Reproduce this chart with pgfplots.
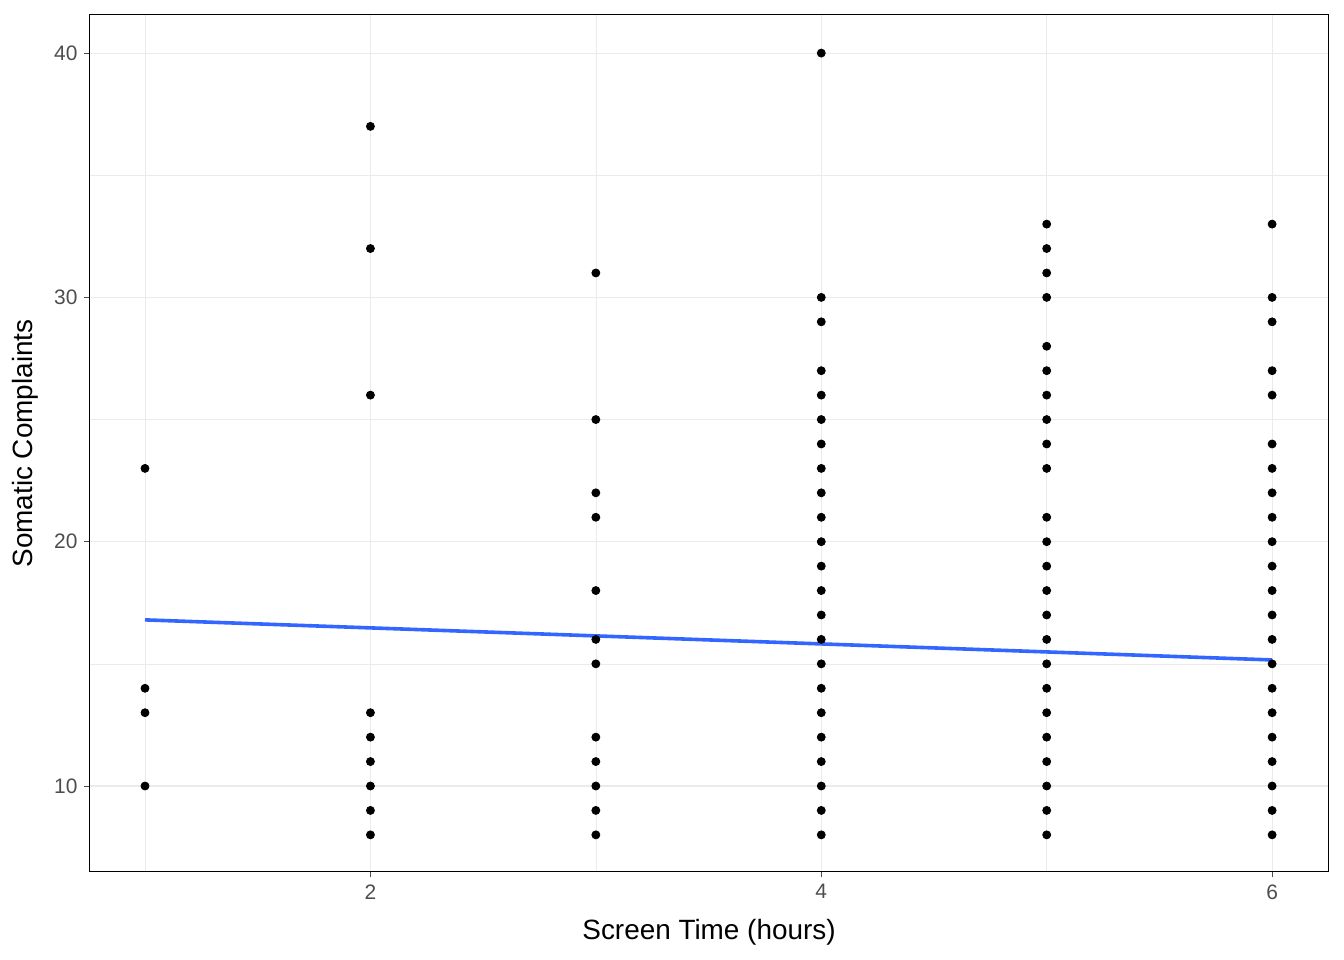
\documentclass[border=0pt]{standalone}
\usepackage{pgfplots}
\pgfplotsset{compat=1.18}
\usepackage{fontspec}
\setmainfont{Liberation Sans}
\definecolor{gridc}{HTML}{EBEBEB}
\definecolor{tickc}{HTML}{4D4D4D}
\definecolor{fitc}{HTML}{3366FF}
\begin{document}
\begin{tikzpicture}[x=1bp,y=1bp]
\useasboundingbox (-45,-44) rectangle (627,436);
\begin{axis}[
  at={(0,0)}, anchor=south west,
  scale only axis, width=619bp, height=428.5bp,
  xmin=0.756, xmax=6.248, ymin=6.48, ymax=41.56,
  xtick={2,4,6}, ytick={10,20,30,40},
  minor xtick={1,3,5}, minor ytick={15,25,35},
  grid=both,
  major grid style={gridc, line width=0.55bp},
  minor grid style={gridc, line width=0.3bp},
  axis line style={black, line width=0.5bp},
  tick style={tickc, line width=0.5bp},
  major tick length=2.75bp, minor tick length=0pt,
  tick align=outside,
  xtick pos=bottom, ytick pos=left,
  ticklabel style={font=\fontsize{10.5}{12}\selectfont, text=tickc},
  /pgf/number format/assume math mode=true,
  xlabel={Screen Time (hours)}, ylabel={Somatic Complaints},
  label style={font=\fontsize{14}{16}\selectfont},
  xlabel style={yshift=-3bp},
  ylabel style={yshift=1bp},
]
\addplot[only marks, mark=*, mark size=2bp, black] table {
x y
1 23
1 14
1 13
1 10
2 37
2 32
2 26
2 13
2 12
2 11
2 10
2 9
2 8
3 31
3 25
3 22
3 21
3 18
3 16
3 15
3 12
3 11
3 10
3 9
3 8
4 40
4 30
4 29
4 27
4 26
4 25
4 24
4 23
4 22
4 21
4 20
4 19
4 18
4 17
4 16
4 15
4 14
4 13
4 12
4 11
4 10
4 9
4 8
5 33
5 32
5 31
5 30
5 28
5 27
5 26
5 25
5 24
5 23
5 21
5 20
5 19
5 18
5 17
5 16
5 15
5 14
5 13
5 12
5 11
5 10
5 9
5 8
6 33
6 30
6 29
6 27
6 26
6 24
6 23
6 22
6 21
6 20
6 19
6 18
6 17
6 16
6 15
6 14
6 13
6 12
6 11
6 10
6 9
6 8
};
\addplot[fitc, line width=1.8bp] table {
x y
1 16.80
6 15.16
};
\end{axis}
\end{tikzpicture}
\end{document}
